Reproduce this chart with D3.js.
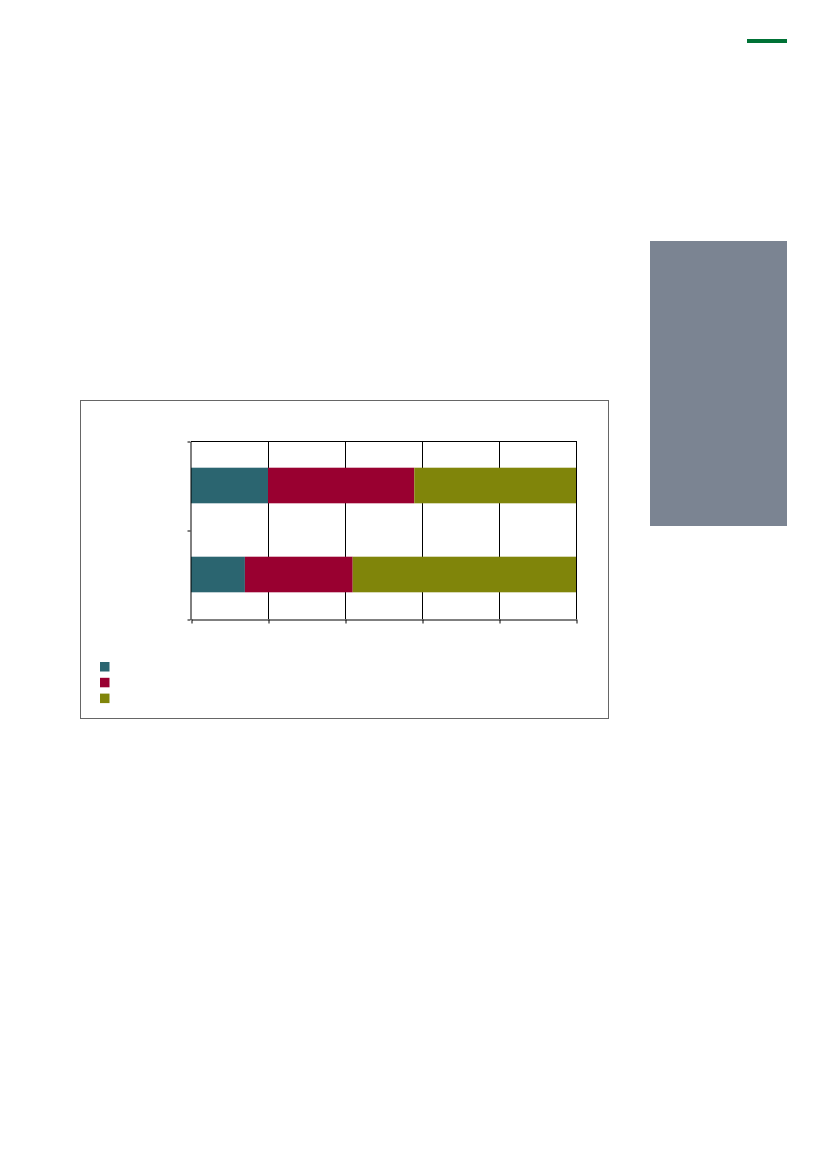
<!DOCTYPE html>
<html>
<head>
<meta charset="utf-8">
<script src="https://cdn.jsdelivr.net/npm/d3@7"></script>
<style>
  html, body { margin: 0; padding: 0; background: #fff; }
  svg { display: block; }
</style>
</head>
<body>
<svg id="page"></svg>
<script>
// Datos (porcentaje por categoría, sin etiquetas visibles en la referencia)
const categories = ["A", "B"];
const series = ["s1", "s2", "s3"];
const colors = ["#2b6570", "#990030", "#80850a"];
const valuesA = [20, 38, 42];
const valuesB = [14, 28, 58];
const xTicks = [0, 20, 40, 60, 80, 100];

const width = 827;
const height = 1169;

const svg = d3.select("#page")
    .attr("width", width)
    .attr("height", height);

// Decoración de página
svg.append("rect")
    .attr("x", 747).attr("y", 39)
    .attr("width", 40).attr("height", 4)
    .attr("fill", "#007236");

svg.append("rect")
    .attr("x", 650).attr("y", 241)
    .attr("width", 137).attr("height", 285)
    .attr("fill", "#7b8492");

// Marco del gráfico
svg.append("rect")
    .attr("x", 80.5).attr("y", 400.5)
    .attr("width", 528).attr("height", 318)
    .attr("fill", "#fff")
    .attr("stroke", "#666")
    .attr("stroke-width", 1);

// Escalas
const plot = { left: 191, right: 576, top: 441, bottom: 619 };

const xScale = d3.scaleLinear()
    .domain([0, 100])
    .range([plot.left, plot.right]);

const yScale = d3.scaleBand()
    .domain(categories)
    .range([plot.top, plot.bottom])
    .paddingInner(0.6)
    .paddingOuter(0.3);

// Rejilla vertical
svg.append("g")
    .selectAll("line")
    .data(xTicks.slice(1))
    .enter()
    .append("line")
    .attr("x1", d => xScale(d) + 0.5)
    .attr("x2", d => xScale(d) + 0.5)
    .attr("y1", plot.top)
    .attr("y2", plot.bottom)
    .attr("stroke", "#000")
    .attr("stroke-width", 1);

svg.append("line")
    .attr("x1", plot.left).attr("x2", plot.right)
    .attr("y1", plot.top + 0.5).attr("y2", plot.top + 0.5)
    .attr("stroke", "#000");

// Barras apiladas
const rows = [valuesA, valuesB];
const data = categories.map((c, i) => {
    const o = { cat: c };
    series.forEach((s, j) => o[s] = rows[i][j]);
    return o;
});
const stacked = d3.stack().keys(series)(data);

svg.append("g")
    .selectAll("g")
    .data(stacked)
    .enter()
    .append("g")
    .attr("fill", (d, i) => colors[i])
    .selectAll("rect")
    .data(d => d)
    .enter()
    .append("rect")
    .attr("x", d => xScale(d[0]))
    .attr("y", d => yScale(d.data.cat))
    .attr("width", d => xScale(d[1]) - xScale(d[0]))
    .attr("height", yScale.bandwidth());

// Ejes
const xAxis = d3.axisBottom(xScale)
    .tickValues(xTicks)
    .tickSize(4)
    .tickSizeOuter(0)
    .tickFormat("");

svg.append("g")
    .attr("transform", `translate(0.5, ${plot.bottom + 0.5})`)
    .call(xAxis)
    .call(g => g.selectAll("line,path").attr("stroke", "#000"));

const yEdge = d3.scaleLinear().domain([0, 2]).range([plot.top, plot.bottom]);
const yAxis = d3.axisLeft(yEdge)
    .tickValues([0, 1, 2])
    .tickSize(3)
    .tickSizeOuter(0)
    .tickFormat("");

svg.append("g")
    .attr("transform", `translate(${plot.left - 0.5}, 0.5)`)
    .call(yAxis)
    .call(g => g.selectAll("line,path").attr("stroke", "#000"));

// Leyenda
svg.append("g")
    .selectAll("rect")
    .data(series)
    .enter()
    .append("rect")
    .attr("x", 100)
    .attr("y", (d, i) => 662 + i * 15.8)
    .attr("width", 9.5)
    .attr("height", 9.5)
    .attr("fill", (d, i) => colors[i]);
</script>
</body>
</html>
